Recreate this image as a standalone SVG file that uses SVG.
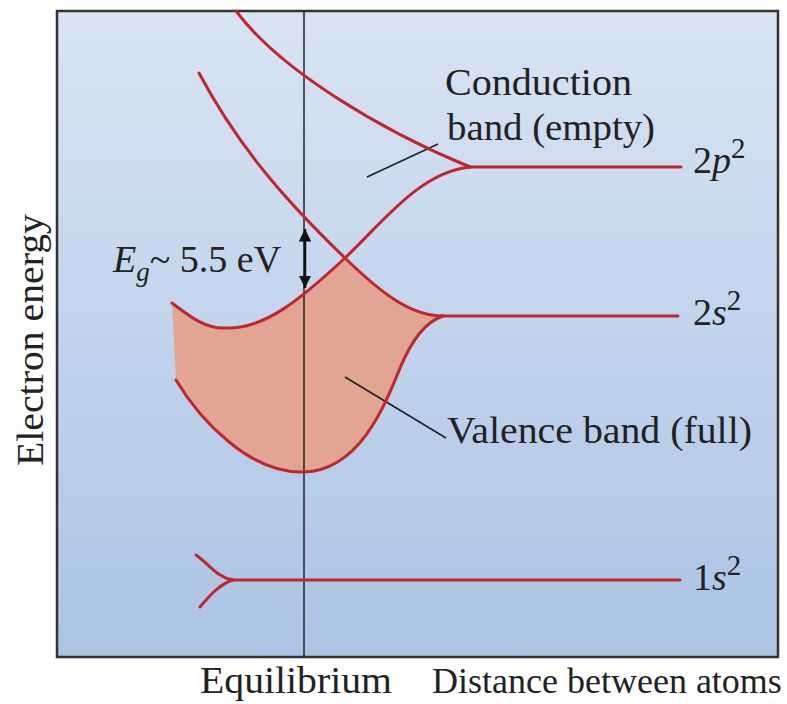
<svg xmlns="http://www.w3.org/2000/svg" width="787" height="704" viewBox="0 0 787 704">
<style>
.band{fill:none;stroke:#c0272d;stroke-width:3;stroke-linecap:round}
.lead{stroke:#222;stroke-width:1.6;fill:none}
.t{font-family:"Liberation Serif","Times New Roman",serif;font-size:38px;fill:#222}
</style>
<defs>
<linearGradient id="bg" x1="0" y1="0" x2="0" y2="1">
<stop offset="0" stop-color="#d8e4f3"/>
<stop offset="1" stop-color="#abc3e4"/>
</linearGradient>
<marker id="ah" viewBox="0 0 10 10" refX="10" refY="5" markerWidth="5" markerHeight="6" markerUnits="strokeWidth" orient="auto-start-reverse">
<path d="M0,0 L10,5 L0,10 Z" fill="#111"/>
</marker>
</defs>
<rect x="57" y="11" width="721" height="646" fill="url(#bg)" stroke="#333" stroke-width="2.5"/>
<g id="valence-fill">
<path d="M172,303 C188,315 205,329 225,328 C265,330 303,297 345,258 C380,292 410,316 443,316 C425,322 412,340 400,368 C385,405 360,470 304,472 C250,474 200,420 176,380 Z" fill="#e2a593"/>
</g>
<g id="connectors">
<line x1="304" y1="11" x2="304" y2="657" stroke="#222" stroke-width="1.5"/>
<line x1="305" y1="229" x2="305" y2="288" stroke="#111" stroke-width="2.5" marker-start="url(#ah)" marker-end="url(#ah)"/>
<line class="lead" x1="367" y1="177" x2="438" y2="144"/>
<line class="lead" x1="345" y1="377" x2="446" y2="438"/>
</g>
<g id="conduction-band">
<path class="band" d="M236,11 C280,70 380,130 470,167"/>
<path class="band" d="M470,167 C420,172 383,222 345,258 C303,297 265,330 225,328 C205,329 188,315 172,303"/>
<line class="band" x1="467" y1="167" x2="681" y2="167"/>
</g>
<g id="valence-band">
<path class="band" d="M199,73 C240,150 290,205 345,258 C380,292 410,316 443,316"/>
<path class="band" d="M443,316 C425,322 412,340 400,368 C385,405 360,470 304,472 C250,474 200,420 176,380"/>
<line class="band" x1="441" y1="316" x2="678" y2="316"/>
</g>
<g id="core-1s">
<path class="band" d="M196,555 C210,565 218,578 233,580"/>
<path class="band" d="M200,607 C210,595 220,584 233,580"/>
<line class="band" x1="232" y1="580" x2="680" y2="580"/>
</g>
<g id="labels">
<text class="t" x="445" y="95" textLength="187" lengthAdjust="spacingAndGlyphs">Conduction</text>
<text class="t" x="447" y="140" textLength="208" lengthAdjust="spacingAndGlyphs">band (empty)</text>
<text class="t" x="447" y="443" textLength="305" lengthAdjust="spacingAndGlyphs">Valence band (full)</text>
<text class="t" x="113" y="272"><tspan font-style="italic">E</tspan><tspan font-style="italic" font-size="27" dy="9">g</tspan><tspan dy="-9">~ 5.5 eV</tspan></text>
<text class="t" x="693" y="173">2<tspan font-style="italic">p</tspan><tspan font-size="29" dy="-15">2</tspan></text>
<text class="t" x="693" y="325">2<tspan font-style="italic">s</tspan><tspan font-size="29" dy="-15">2</tspan></text>
<text class="t" x="693" y="590">1<tspan font-style="italic">s</tspan><tspan font-size="29" dy="-15">2</tspan></text>
<text class="t" x="200" y="693" textLength="192" lengthAdjust="spacingAndGlyphs">Equilibrium</text>
<text class="t" x="432" y="693" style="font-size:36px">Distance between atoms</text>
<text class="t" transform="translate(43,340) rotate(-90)" text-anchor="middle" textLength="252" lengthAdjust="spacingAndGlyphs">Electron energy</text>
</g>
</svg>
